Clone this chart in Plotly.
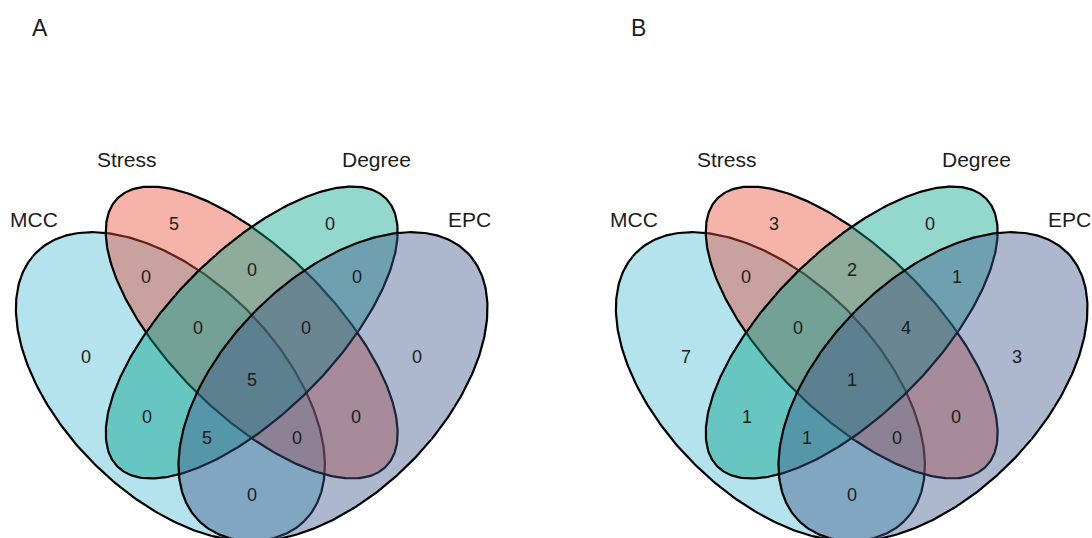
import numpy as np
import plotly.graph_objects as go

# ---- data -------------------------------------------------------------
SET_NAMES = ["MCC", "Stress", "Degree", "EPC"]
SET_COLORS = ["#4DBBD5", "#E64B35", "#00A087", "#3C5488"]

REGIONS = [
    "MCC", "Stress", "Degree", "EPC",
    "MCC&Stress", "Stress&Degree", "Degree&EPC",
    "MCC&Stress&Degree", "Stress&Degree&EPC",
    "MCC&Stress&Degree&EPC",
    "MCC&Degree", "Stress&EPC",
    "MCC&Degree&EPC", "MCC&Stress&EPC",
    "MCC&EPC",
]
COUNTS_A = [0, 5, 0, 0, 0, 0, 0, 0, 0, 5, 0, 0, 5, 0, 0]
COUNTS_B = [7, 3, 0, 3, 0, 2, 1, 0, 4, 1, 1, 0, 1, 0, 0]
PANEL_LABELS = ["A", "B"]

# ---- quad-Venn layout (unit square, y pointing up) ----------------------
ELLIPSES = [  # centre x, centre y, semi-major, semi-minor, rotation (deg)
    (0.35, 0.47, 0.35, 0.20, -45),
    (0.50, 0.57, 0.35, 0.15, -45),
    (0.50, 0.57, 0.35, 0.15, 45),
    (0.65, 0.47, 0.35, 0.20, 45),
]
REGION_POS = {
    "MCC": (0.195, 0.525),
    "Stress": (0.356, 0.771),
    "Degree": (0.644, 0.771),
    "EPC": (0.805, 0.525),
    "MCC&Stress": (0.305, 0.672),
    "Stress&Degree": (0.500, 0.685),
    "Degree&EPC": (0.695, 0.672),
    "MCC&Stress&Degree": (0.400, 0.578),
    "Stress&Degree&EPC": (0.600, 0.578),
    "MCC&Stress&Degree&EPC": (0.500, 0.482),
    "MCC&Degree": (0.307, 0.415),
    "Stress&EPC": (0.693, 0.415),
    "MCC&Degree&EPC": (0.417, 0.375),
    "MCC&Stress&EPC": (0.583, 0.375),
    "MCC&EPC": (0.500, 0.270),
}
NAME_POS = [(0.099, 0.779), (0.270, 0.890), (0.730, 0.890), (0.901, 0.779)]

W, H = 1092, 538
UNIT = 542.0                      # pixels per layout unit
PANEL_CENTRES = [(251.7, 332.5), (851.7, 332.5)]   # pixel position of (0.5, 0.57)
LETTER_POS = [(40, 28), (638, 28)]

FILL_ALPHA = 0.42
TEXT_COLOR = "#1c1c1c"
FONT = "Arial, Liberation Sans, Helvetica, sans-serif"


def to_px(u, v, panel):
    cx, cy = PANEL_CENTRES[panel]
    return cx + (u - 0.5) * UNIT, cy - (v - 0.57) * UNIT


def ellipse_outline(cx, cy, a, b, rot, panel, n=361):
    t = np.linspace(0, 2 * np.pi, n)
    r = np.deg2rad(rot)
    xs = cx + a * np.cos(t) * np.cos(r) - b * np.sin(t) * np.sin(r)
    ys = cy + a * np.cos(t) * np.sin(r) + b * np.sin(t) * np.cos(r)
    return to_px(xs, ys, panel)


def rgba(hex_color, alpha):
    h = hex_color.lstrip("#")
    r, g, b = (int(h[i:i + 2], 16) for i in (0, 2, 4))
    return f"rgba({r},{g},{b},{alpha})"


fig = go.Figure()
annotations = []

for panel, counts in enumerate([COUNTS_A, COUNTS_B]):
    # the four sets
    for name, color, (cx, cy, a, b, rot) in zip(SET_NAMES, SET_COLORS, ELLIPSES):
        px, py = ellipse_outline(cx, cy, a, b, rot, panel)
        fig.add_trace(go.Scatter(
            x=px, y=py, mode="lines", fill="toself",
            fillcolor=rgba(color, FILL_ALPHA),
            line=dict(color="#000000", width=2.2),
            hoverinfo="skip", showlegend=False, name=name,
        ))
    # region counts
    for region, value in zip(REGIONS, counts):
        u, v = REGION_POS[region]
        x, y = to_px(u, v, panel)
        annotations.append(dict(
            x=x, y=y, xref="x", yref="y", text=str(value), showarrow=False,
            font=dict(family=FONT, size=18, color=TEXT_COLOR),
            xanchor="center", yanchor="middle",
        ))
    # set names
    for name, (u, v) in zip(SET_NAMES, NAME_POS):
        x, y = to_px(u, v, panel)
        annotations.append(dict(
            x=x, y=y, xref="x", yref="y", text=name, showarrow=False,
            font=dict(family=FONT, size=21, color=TEXT_COLOR),
            xanchor="center", yanchor="middle",
        ))
    # panel letter
    lx, ly = LETTER_POS[panel]
    annotations.append(dict(
        x=lx, y=ly, xref="x", yref="y", text=PANEL_LABELS[panel], showarrow=False,
        font=dict(family=FONT, size=23, color=TEXT_COLOR),
        xanchor="center", yanchor="middle",
    ))

fig.update_layout(
    width=W, height=H, autosize=False,
    margin=dict(l=0, r=0, t=0, b=0),
    paper_bgcolor="white", plot_bgcolor="white",
    xaxis=dict(range=[0, W], visible=False, fixedrange=True),
    yaxis=dict(range=[H, 0], visible=False, fixedrange=True),
    annotations=annotations,
    showlegend=False,
)

fig.write_html("out.html")
